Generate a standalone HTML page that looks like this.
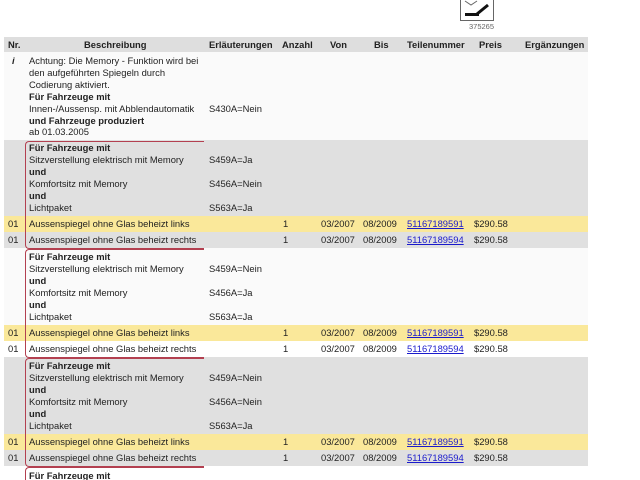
<!DOCTYPE html>
<html style="overflow:hidden;height:480px"><head><meta charset="utf-8"><style>
body{margin:0;width:640px;height:480px;overflow:hidden;background:#fff;font-family:"Liberation Sans",sans-serif;font-size:9.4px;color:#222;position:relative}
div{position:absolute;white-space:nowrap}
.t{line-height:12px;height:12px}
.b{font-weight:bold}
.bg{left:4px;width:584px}
a{color:#1a1acc;text-decoration:underline}
.grp{left:25px;width:178px;border:1.5px solid #b34050;border-right:none;border-radius:4px 0 0 4px}
</style></head><body>
<div style="left:460px;top:-2px;width:32px;height:21px;border:1px solid #666;background:#fff">
<svg width="32" height="21"><path d="M4 2 L10 6 L16 2" stroke="#666" fill="none"/><rect x="4" y="14" width="14" height="3" fill="#111"/><path d="M16 15 L27 6" stroke="#111" stroke-width="3"/></svg></div>
<div style="left:469px;top:22px;font-size:7.5px;color:#666">375265</div>

<div class="bg" style="top:37px;height:15px;background:#dedede"></div>
<div class="bg" style="top:52px;height:88px;background:#fafafa"></div>
<div class="bg" style="top:140px;height:76px;background:#e0e0e0"></div>
<div class="bg" style="top:216px;height:16px;background:#fae89a"></div>
<div class="bg" style="top:232px;height:16px;background:#e0e0e0"></div>
<div class="bg" style="top:248px;height:77px;background:#fafafa"></div>
<div class="bg" style="top:325px;height:16px;background:#fae89a"></div>
<div class="bg" style="top:341px;height:16px;background:#fff"></div>
<div class="bg" style="top:357px;height:77px;background:#e0e0e0"></div>
<div class="bg" style="top:434px;height:16px;background:#fae89a"></div>
<div class="bg" style="top:450px;height:16px;background:#e0e0e0"></div>

<div class="grp" style="top:141px;height:106px"></div>
<div class="grp" style="top:249px;height:107px"></div>
<div class="grp" style="top:358px;height:107px"></div>
<div class="grp" style="top:467px;height:12px;border-bottom:none;border-radius:4px 0 0 0"></div>

<div class="t b" style="top:39px;left:8px">Nr.</div>
<div class="t b" style="top:39px;left:84px">Beschreibung</div>
<div class="t b" style="top:39px;left:209px">Erläuterungen</div>
<div class="t b" style="top:39px;left:282px">Anzahl</div>
<div class="t b" style="top:39px;left:330px">Von</div>
<div class="t b" style="top:39px;left:374px">Bis</div>
<div class="t b" style="top:39px;left:407px">Teilenummer</div>
<div class="t b" style="top:39px;left:479px">Preis</div>
<div class="t b" style="top:39px;left:525px">Ergänzungen</div>

<div class="t b" style="top:55px;left:12px;font-style:italic">i</div>
<div class="t" style="top:55px;left:29px">Achtung: Die Memory - Funktion wird bei</div>
<div class="t" style="top:67px;left:29px">den aufgeführten Spiegeln durch</div>
<div class="t" style="top:79px;left:29px">Codierung aktiviert.</div>
<div class="t b" style="top:91px;left:29px">Für Fahrzeuge mit</div>
<div class="t" style="top:103px;left:29px">Innen-/Aussensp. mit Abblendautomatik</div>
<div class="t" style="top:103px;left:209px">S430A=Nein</div>
<div class="t b" style="top:115px;left:29px">und Fahrzeuge produziert</div>
<div class="t" style="top:126px;left:29px">ab 01.03.2005</div>

<div class="t b" style="top:142px;left:29px">Für Fahrzeuge mit</div>
<div class="t" style="top:154px;left:29px">Sitzverstellung elektrisch mit Memory</div>
<div class="t" style="top:154px;left:209px">S459A=Ja</div>
<div class="t b" style="top:166px;left:29px">und</div>
<div class="t" style="top:178px;left:29px">Komfortsitz mit Memory</div>
<div class="t" style="top:178px;left:209px">S456A=Nein</div>
<div class="t b" style="top:190px;left:29px">und</div>
<div class="t" style="top:202px;left:29px">Lichtpaket</div>
<div class="t" style="top:202px;left:209px">S563A=Ja</div>

<div class="t" style="top:218px;left:8px">01</div><div class="t" style="top:218px;left:29px">Aussenspiegel ohne Glas beheizt links</div><div class="t" style="top:218px;left:283px">1</div><div class="t" style="top:218px;left:321px">03/2007</div><div class="t" style="top:218px;left:363px">08/2009</div><div class="t" style="top:218px;left:407px"><a>51167189591</a></div><div class="t" style="top:218px;left:474px">$290.58</div>
<div class="t" style="top:234px;left:8px">01</div><div class="t" style="top:234px;left:29px">Aussenspiegel ohne Glas beheizt rechts</div><div class="t" style="top:234px;left:283px">1</div><div class="t" style="top:234px;left:321px">03/2007</div><div class="t" style="top:234px;left:363px">08/2009</div><div class="t" style="top:234px;left:407px"><a>51167189594</a></div><div class="t" style="top:234px;left:474px">$290.58</div>

<div class="t b" style="top:251px;left:29px">Für Fahrzeuge mit</div>
<div class="t" style="top:263px;left:29px">Sitzverstellung elektrisch mit Memory</div>
<div class="t" style="top:263px;left:209px">S459A=Nein</div>
<div class="t b" style="top:275px;left:29px">und</div>
<div class="t" style="top:287px;left:29px">Komfortsitz mit Memory</div>
<div class="t" style="top:287px;left:209px">S456A=Ja</div>
<div class="t b" style="top:299px;left:29px">und</div>
<div class="t" style="top:311px;left:29px">Lichtpaket</div>
<div class="t" style="top:311px;left:209px">S563A=Ja</div>

<div class="t" style="top:327px;left:8px">01</div><div class="t" style="top:327px;left:29px">Aussenspiegel ohne Glas beheizt links</div><div class="t" style="top:327px;left:283px">1</div><div class="t" style="top:327px;left:321px">03/2007</div><div class="t" style="top:327px;left:363px">08/2009</div><div class="t" style="top:327px;left:407px"><a>51167189591</a></div><div class="t" style="top:327px;left:474px">$290.58</div>
<div class="t" style="top:343px;left:8px">01</div><div class="t" style="top:343px;left:29px">Aussenspiegel ohne Glas beheizt rechts</div><div class="t" style="top:343px;left:283px">1</div><div class="t" style="top:343px;left:321px">03/2007</div><div class="t" style="top:343px;left:363px">08/2009</div><div class="t" style="top:343px;left:407px"><a>51167189594</a></div><div class="t" style="top:343px;left:474px">$290.58</div>

<div class="t b" style="top:360px;left:29px">Für Fahrzeuge mit</div>
<div class="t" style="top:372px;left:29px">Sitzverstellung elektrisch mit Memory</div>
<div class="t" style="top:372px;left:209px">S459A=Nein</div>
<div class="t b" style="top:384px;left:29px">und</div>
<div class="t" style="top:396px;left:29px">Komfortsitz mit Memory</div>
<div class="t" style="top:396px;left:209px">S456A=Nein</div>
<div class="t b" style="top:408px;left:29px">und</div>
<div class="t" style="top:420px;left:29px">Lichtpaket</div>
<div class="t" style="top:420px;left:209px">S563A=Ja</div>

<div class="t" style="top:436px;left:8px">01</div><div class="t" style="top:436px;left:29px">Aussenspiegel ohne Glas beheizt links</div><div class="t" style="top:436px;left:283px">1</div><div class="t" style="top:436px;left:321px">03/2007</div><div class="t" style="top:436px;left:363px">08/2009</div><div class="t" style="top:436px;left:407px"><a>51167189591</a></div><div class="t" style="top:436px;left:474px">$290.58</div>
<div class="t" style="top:452px;left:8px">01</div><div class="t" style="top:452px;left:29px">Aussenspiegel ohne Glas beheizt rechts</div><div class="t" style="top:452px;left:283px">1</div><div class="t" style="top:452px;left:321px">03/2007</div><div class="t" style="top:452px;left:363px">08/2009</div><div class="t" style="top:452px;left:407px"><a>51167189594</a></div><div class="t" style="top:452px;left:474px">$290.58</div>

<div class="t b" style="top:470px;left:29px">Für Fahrzeuge mit</div>
</body></html>
